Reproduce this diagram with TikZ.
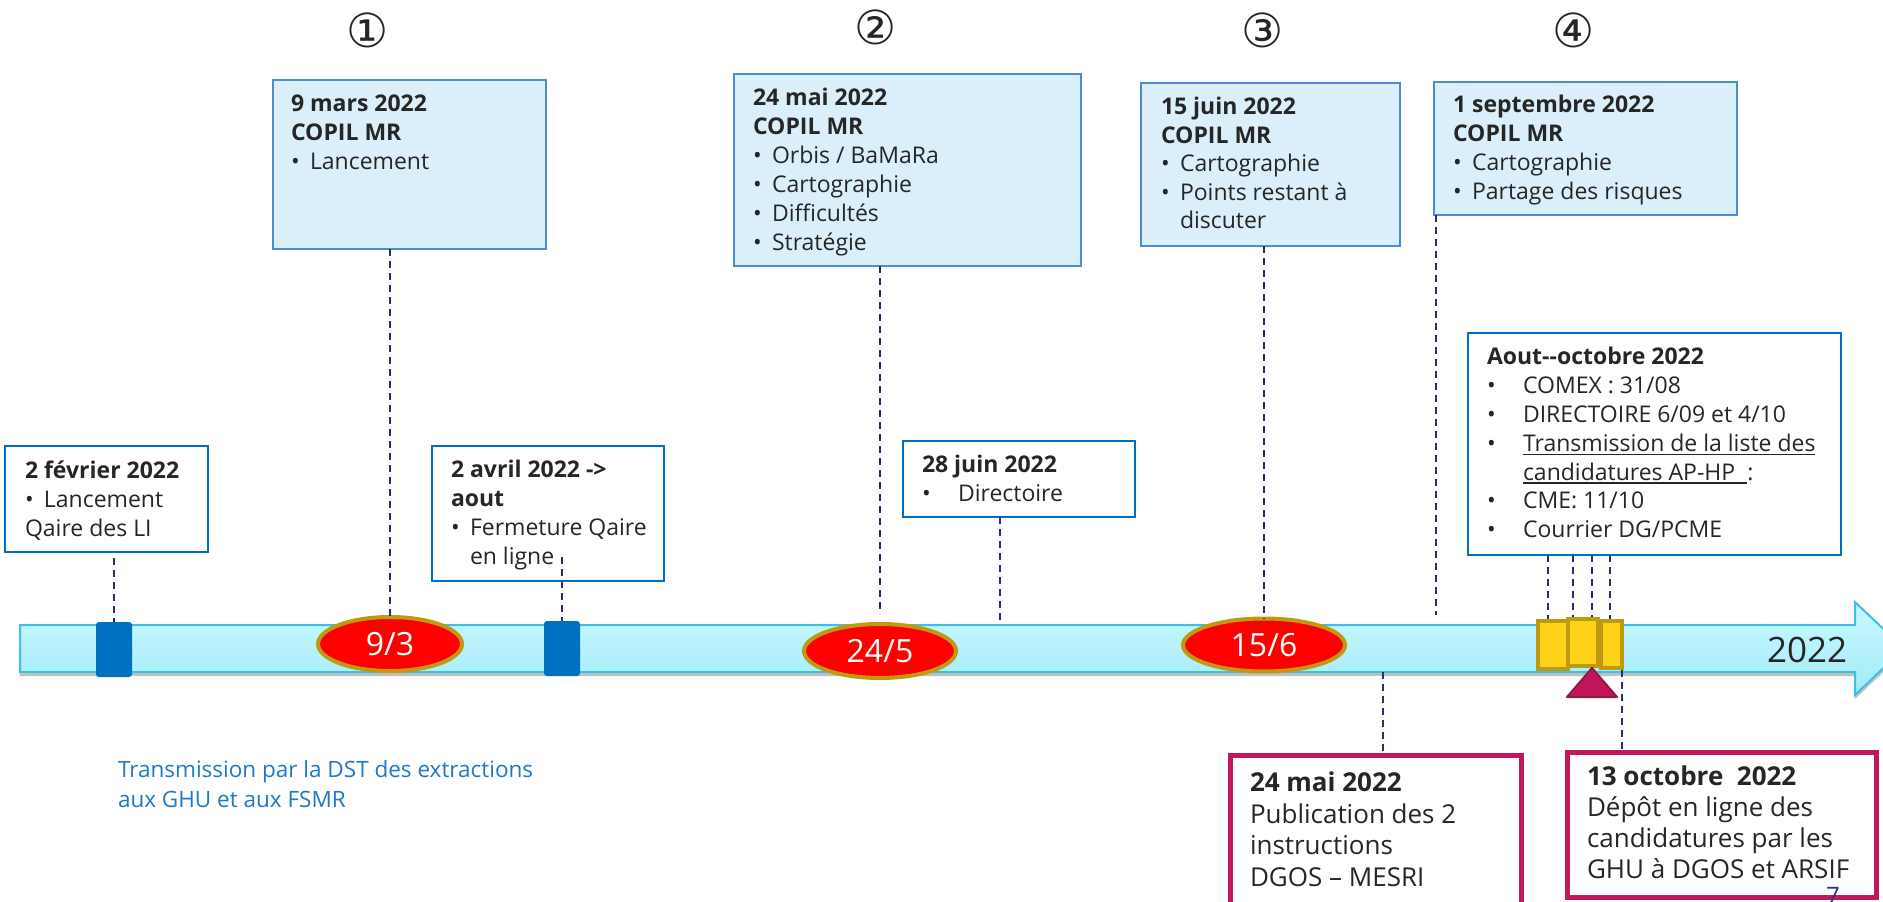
\documentclass[tikz,border=0pt]{standalone}
\usepackage{fontspec}
\setmainfont{Open Sans}
\newfontfamily\symfont{DejaVu Sans}
\usetikzlibrary{shapes.geometric,shadows}
\definecolor{txt}{HTML}{262626}
\definecolor{topfill}{HTML}{DAEFF9}
\definecolor{topdraw}{HTML}{4A8DD0}
\definecolor{lowdraw}{HTML}{0070C0}
\definecolor{pinkdraw}{HTML}{C2185B}
\definecolor{dashc}{HTML}{2E2A6E}
\definecolor{bartop}{HTML}{CCF8FE}
\definecolor{barbot}{HTML}{A0EBFA}
\definecolor{bardraw}{HTML}{3DC0E6}
\definecolor{mk}{HTML}{0070C0}
\definecolor{ellred}{HTML}{FF0000}
\definecolor{gold}{HTML}{BF9A10}
\definecolor{yel}{HTML}{FFD21A}
\definecolor{trifill}{HTML}{C0175C}
\definecolor{tridraw}{HTML}{8C1C40}
\definecolor{linkblue}{HTML}{1F78C8}
\definecolor{pagenum}{HTML}{1F3A7A}
\newcommand{\bl}[1]{\makebox[19pt][l]{•}#1}
\newcommand{\blw}[1]{\makebox[36pt][l]{•}#1}
\newcommand{\myul}[1]{\setbox0\hbox{#1}\rlap{\rule[-3.5pt]{\wd0}{1.3pt}}\box0}
\begin{document}
\begin{tikzpicture}[x=1pt,y=-1pt,
  every node/.style={inner sep=0pt, outer sep=0pt},
  topbox/.style={rectangle, draw=topdraw, fill=topfill, line width=2pt},
  lowbox/.style={rectangle, draw=lowdraw, fill=white, line width=2.5pt},
  pinkbox/.style={rectangle, draw=pinkdraw, fill=white, line width=5pt},
  boxtext/.style={anchor=north west, align=left, text=txt, font=\fontsize{23}{29}\selectfont},
  bigtext/.style={anchor=north west, align=left, text=txt, font=\fontsize{26}{31.5}\selectfont},
  marker/.style={rectangle, fill=mk, rounded corners=3pt, minimum width=36pt, minimum height=55pt},
  datell/.style={ellipse, fill=ellred, draw=gold, line width=4pt, text=white, font=\fontsize{32}{36}\selectfont},
  yrect/.style={rectangle, fill=yel, draw=gold, line width=4pt},
  circnum/.style={text=txt, font=\symfont\fontsize{47}{50}\selectfont},
  dashline/.style={draw=dashc, line width=2pt, dash pattern=on 7pt off 5pt}
]
\path[use as bounding box, fill=white] (0,0) rectangle (1883,902);

% circled numbers
\node[circnum] (n1) at (368,30) {①};
\node[circnum] (n2) at (876,27) {②};
\node[circnum] (n3) at (1263,30) {③};
\node[circnum] (n4) at (1574,30) {④};

% timeline bar
\path[draw=bardraw, line width=2pt, top color=bartop, bottom color=barbot,
  drop shadow={opacity=0.4, shadow xshift=0pt, shadow yshift=-4pt, fill=black!60}]
  (20,625) -- (1855,625) -- (1855,602) -- (1904,648.5) -- (1855,695) -- (1855,672) -- (20,672) -- cycle;
\node[anchor=base west, text=txt, font=\fontsize{35}{40}\selectfont] (yr) at (1767,662) {2022};

% top boxes
\node[topbox, minimum width=273pt, minimum height=169pt] (b9) at (409.5,164.5) {};
\node[boxtext] (t9) at (291,94.5) {\textbf{9 mars 2022}\\\textbf{COPIL MR}\\\bl{Lancement}};

\node[topbox, minimum width=347pt, minimum height=192pt] (b24) at (907.5,170) {};
\node[boxtext] (t24) at (753,88.5) {\textbf{24 mai 2022}\\\textbf{COPIL MR}\\\bl{Orbis / BaMaRa}\\\bl{Cartographie}\\\bl{Difficultés}\\\bl{Stratégie}};

\node[topbox, minimum width=259pt, minimum height=163pt] (b15) at (1270.5,164.5) {};
\node[boxtext, font=\fontsize{23}{28.5}\selectfont] (t15) at (1161,97.5) {\textbf{15 juin 2022}\\\textbf{COPIL MR}\\\bl{Cartographie}\\\bl{Points restant à}\\\hspace*{19pt}discuter};

\node[topbox, minimum width=303pt, minimum height=133pt] (b1s) at (1585.5,148.5) {};
\node[boxtext] (t1s) at (1453,95.5) {\textbf{1 septembre 2022}\\\textbf{COPIL MR}\\\bl{Cartographie}\\\bl{Partage des risques}};

% lower boxes
\node[lowbox, minimum width=203pt, minimum height=106pt] (b2f) at (106.5,499) {};
\node[boxtext] (t2f) at (25,460.5) {\textbf{2 février 2022}\\\bl{Lancement}\\Qaire des LI};

\node[lowbox, minimum width=232pt, minimum height=135pt] (b2a) at (548,513.5) {};
\node[boxtext] (t2a) at (451,460.5) {\textbf{2 avril 2022 ->}\\\textbf{aout}\\\bl{Fermeture Qaire}\\\hspace*{19pt}en ligne};

\node[lowbox, minimum width=232pt, minimum height=76pt] (b28) at (1019,479) {};
\node[boxtext] (t28) at (922,455.5) {\textbf{28 juin 2022}\\\blw{Directoire}};

\node[lowbox, minimum width=373pt, minimum height=222pt] (bao) at (1654.5,444) {};
\node[boxtext, font=\fontsize{23}{28.8}\selectfont] (tao) at (1487,347.5) {\textbf{Aout-{}-octobre 2022}\\\blw{COMEX : 31/08}\\\blw{DIRECTOIRE 6/09 et 4/10}\\\blw{\myul{Transmission de la liste des}}\\\hspace*{36pt}\myul{candidatures AP-HP\hspace{12pt}}:\\\blw{CME: 11/10}\\\blw{Courrier DG/PCME}};

% bottom pink boxes
\node[pinkbox, minimum width=291pt, minimum height=185pt] (p24) at (1376,847.5) {};
\node[bigtext] (tp24) at (1250,772) {\textbf{24 mai 2022}\\Publication des 2\\instructions\\DGOS – MESRI};

\node[pinkbox, minimum width=309pt, minimum height=145pt] (p13) at (1722,825) {};
\node[bigtext, font=\fontsize{26}{31}\selectfont] (tp13) at (1587,766) {\textbf{13 octobre\ \ 2022}\\Dépôt en ligne des\\candidatures par les\\GHU à DGOS et ARSIF};

% blue note
\node[anchor=north west, align=left, text=linkblue, font=\fontsize{22.5}{30}\selectfont] (note) at (118,760) {Transmission par la DST des extractions\\aux GHU et aux FSMR};

% markers on the bar
\node[marker] (m1) at (114,649.5) {};
\node[marker] (m2) at (562,648.5) {};
\node[datell, minimum width=144pt, minimum height=54pt] (e1) at (390,644) {9/3};
\node[datell, minimum width=152pt, minimum height=54pt] (e2) at (880,651) {24/5};
\node[datell, minimum width=162pt, minimum height=53pt] (e3) at (1264,645) {15/6};
\node[yrect, minimum width=30pt, minimum height=48pt] (r1) at (1553,645) {};
\node[yrect, minimum width=21pt, minimum height=47pt] (r3) at (1611.5,644.5) {};
\node[yrect, minimum width=30pt, minimum height=47pt] (r2) at (1583,642.5) {};
\filldraw[fill=trifill, draw=tridraw, line width=2pt, line join=round] (1592,668) -- (1617,697) -- (1567,697) -- cycle;

% anchor points for connectors
\coordinate (c2a) at (562,557);
\coordinate (k28) at (1000,620);
\coordinate (k1s) at (1436,615);
\coordinate (a1) at (1548,619);
\coordinate (a2) at (1573,617);
\coordinate (a3) at (1592,617);
\coordinate (a4) at (1610,619);
\coordinate (kb24) at (1383,672);
\coordinate (kb13) at (1622,670);

% dashed connectors
\draw[dashline, shorten <=6pt] (b2f.south -| m1.north) -- (m1.north);
\draw[dashline] (b9.south -| e1.north) -- (e1.north);
\draw[dashline] (c2a) -- (m2.north);
\draw[dashline, shorten >=10pt] (b24.south -| e2.north) -- (e2.north);
\draw[dashline] (b28.south -| k28) -- (k28);
\draw[dashline] (b15.south -| e3.north) -- (e3.north);
\draw[dashline] (b1s.south -| k1s) -- (k1s);
\foreach \k in {a1,a2,a3,a4} \draw[dashline] (bao.south -| \k) -- (\k);
\draw[dashline] (kb24) -- (p24.north -| kb24);
\draw[dashline] (kb13) -- (p13.north -| kb13);

% page number
\node[anchor=north west, text=pagenum, font=\fontsize{24}{28}\selectfont] (pg) at (1826,887) {7};
\end{tikzpicture}
\end{document}
